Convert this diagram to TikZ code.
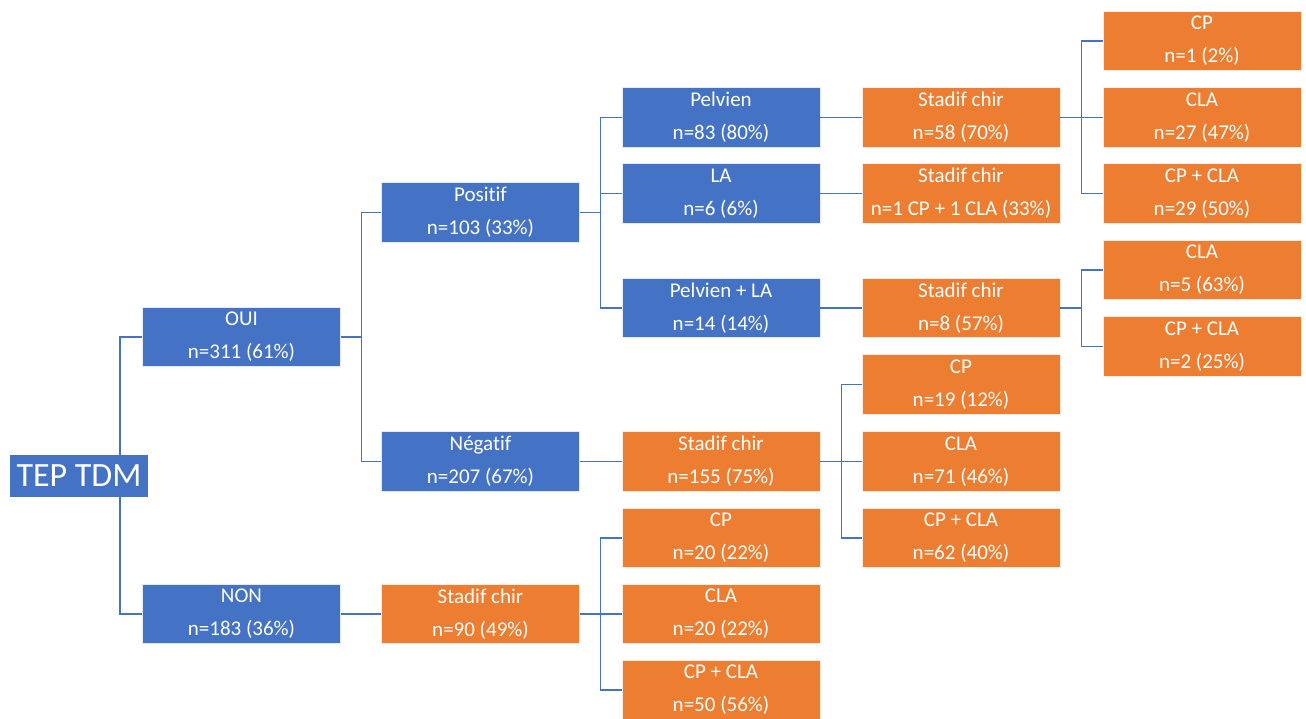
\documentclass[tikz,border=0pt]{standalone}
\usepackage{fontspec}
\setmainfont{Carlito}[Ligatures={NoCommon}]
\definecolor{bblue}{HTML}{4472C4}
\definecolor{oorange}{HTML}{ED7D31}
\definecolor{lline}{HTML}{4472C4}
\tikzset{
  boxb/.style={fill=bblue, draw=white!85!bblue, line width=0.6pt, minimum width=198pt, minimum height=59.5pt, inner sep=0pt, text=white, align=center, font=\fontsize{21}{33}\selectfont},
  boxo/.style={boxb, fill=oorange, draw=white!85!oorange},
  conn/.style={draw=lline, line width=1.3pt}
}
\begin{document}
\begin{tikzpicture}[x=1pt,y=-1pt]
\useasboundingbox (0,0) rectangle (1306,718);
% root
\node[fill=bblue, minimum width=138pt, minimum height=42pt, inner sep=0pt, text=white, font=\fontsize{34}{40}\selectfont] (tep) at (79,476) {TEP TDM};
% level 1
\node[boxb] (oui) at (241.5,337) {OUI\\n=311 (61\%)};
\node[boxb] (non) at (241.5,614) {NON\\n=183 (36\%)};
% level 2
\node[boxb] (pos) at (480.5,212.5) {Positif\\n=103 (33\%)};
\node[boxb] (neg) at (480.5,461.5) {Négatif\\n=207 (67\%)};
\node[boxo] (s90) at (480.5,614) {Stadif chir\\n=90 (49\%)};
% level 3
\node[boxb] (pel) at (721,117.5) {Pelvien\\n=83 (80\%)};
\node[boxb] (la) at (721,193.5) {LA\\n=6 (6\%)};
\node[boxb] (pla) at (721,308) {Pelvien + LA\\n=14 (14\%)};
\node[boxo] (s155) at (721,461.5) {Stadif chir\\n=155 (75\%)};
\node[boxo] (cp20) at (721,538) {CP\\n=20 (22\%)};
\node[boxo] (cla20) at (721,614) {CLA\\n=20 (22\%)};
\node[boxo] (cpcla50) at (721,690) {CP + CLA\\n=50 (56\%)};
% level 4
\node[boxo] (s1) at (961,117.5) {Stadif chir\\n=58 (70\%)};
\node[boxo] (s2) at (961,193.5) {Stadif chir\\n=1 CP + 1 CLA (33\%)};
\node[boxo] (s3) at (961,308) {Stadif chir\\n=8 (57\%)};
\node[boxo] (cp19) at (961,384.5) {CP\\n=19 (12\%)};
\node[boxo] (cla71) at (961,461.5) {CLA\\n=71 (46\%)};
\node[boxo] (cpcla62) at (961,538) {CP + CLA\\n=62 (40\%)};
% level 5
\node[boxo] (cp1) at (1202,41) {CP\\n=1 (2\%)};
\node[boxo] (cla27) at (1202,117.5) {CLA\\n=27 (47\%)};
\node[boxo] (cpcla29) at (1202,193.5) {CP + CLA\\n=29 (50\%)};
\node[boxo] (cla5) at (1202,270) {CLA\\n=5 (63\%)};
\node[boxo] (cpcla2) at (1202,346.5) {CP + CLA\\n=2 (25\%)};
% connectors
\draw[conn] ([xshift=41pt]tep.north) |- (oui.west);
\draw[conn] ([xshift=41pt]tep.south) |- (non.west);
\draw[conn] (oui.east) -- ++(20.5,0) coordinate (j1) |- (pos.west);
\draw[conn] (j1) |- (neg.west);
\draw[conn] (pos.east) -- ++(21,0) coordinate (j2) |- (pel.west);
\draw[conn] (j2) |- (la.west);
\draw[conn] (j2) |- (pla.west);
\draw[conn] (pel.east) -- (s1.west);
\draw[conn] (la.east) -- (s2.west);
\draw[conn] (pla.east) -- (s3.west);
\draw[conn] (s1.east) -- ++(21.5,0) coordinate (j3) |- (cp1.west);
\draw[conn] (j3) -- (cla27.west);
\draw[conn] (j3) |- (cpcla29.west);
\draw[conn] (s3.east) -- ++(21.5,0) coordinate (j4) |- (cla5.west);
\draw[conn] (j4) |- (cpcla2.west);
\draw[conn] (neg.east) -- (s155.west);
\draw[conn] (s155.east) -- ++(21,0) coordinate (j5) |- (cp19.west);
\draw[conn] (j5) -- (cla71.west);
\draw[conn] (j5) |- (cpcla62.west);
\draw[conn] (non.east) -- (s90.west);
\draw[conn] (s90.east) -- ++(21,0) coordinate (j6) |- (cp20.west);
\draw[conn] (j6) -- (cla20.west);
\draw[conn] (j6) |- (cpcla50.west);
\end{tikzpicture}
\end{document}
